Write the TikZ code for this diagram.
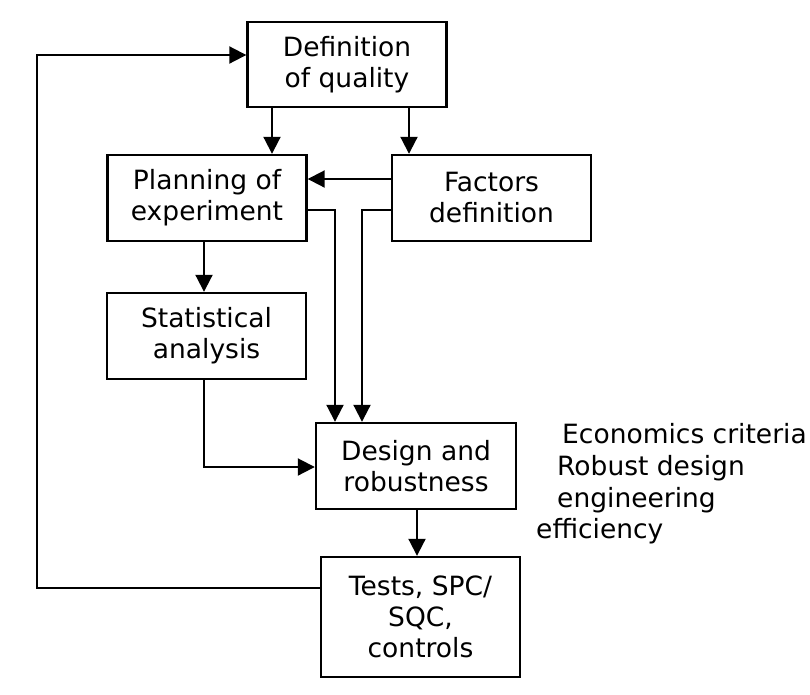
\documentclass[tikz,border=0pt]{standalone}
\usepackage{fontspec}
\setmainfont{DejaVu Sans}
\usetikzlibrary{arrows.meta}
\begin{document}
\begin{tikzpicture}[x=1pt,y=-1pt,
  box/.style={draw,line width=2.4pt,rectangle,align=center,inner sep=0pt,
    minimum width=#1,font=\fontsize{26.5}{31}\selectfont},
  box/.default=199pt,
  arr/.style={line width=2pt,-{Triangle[length=17pt,width=17pt]}},
  lbl/.style={anchor=base west,inner sep=0pt,font=\fontsize{26.5}{31}\selectfont}]
\useasboundingbox (0,0) rectangle (810,694);
\node[box,minimum height=85pt] (q) at (347,64.5) {Definition\\of quality};
\node[box,minimum height=86pt] (p) at (207,198) {Planning of\\experiment};
\node[box,minimum height=86pt] (f) at (491.5,198) {Factors\\definition};
\node[box,minimum height=86pt] (s) at (206.5,336) {Statistical\\analysis};
\node[box=200pt,minimum height=86pt] (d) at (416,466) {Design and\\robustness};
\node[box,minimum height=120pt] (t) at (420.5,617) {Tests, SPC/\\SQC,\\controls};
\node[lbl] (e1) at (562,443) {Economics criteria};
\node[lbl] (e2) at (557,475) {Robust design};
\node[lbl] (e3) at (557,507) {engineering};
\node[lbl] (e4) at (536,538) {efficiency};
\draw[arr] (q.south -| 272,0) -- (p.north -| 272,0);
\draw[arr] (q.south -| 409,0) -- (f.north -| 409,0);
\draw[arr] (f.west |- 0,179) -- (p.east |- 0,179);
\draw[arr] (p.east |- 0,210) -| (d.north -| 335,0);
\draw[arr] (f.west |- 0,210) -| (d.north -| 362,0);
\draw[arr] (p.south -| 204,0) -- (s.north -| 204,0);
\draw[arr] (s.south -| 204,0) |- (d.west |- 0,467);
\draw[arr] (d.south -| 417,0) -- (t.north -| 417,0);
\coordinate (c1) at (37,588);
\coordinate (c2) at (37,55);
\draw[arr] (t.west |- c1) -- (c1) -- (c2) -- (q.west |- c2);
\end{tikzpicture}
\end{document}
